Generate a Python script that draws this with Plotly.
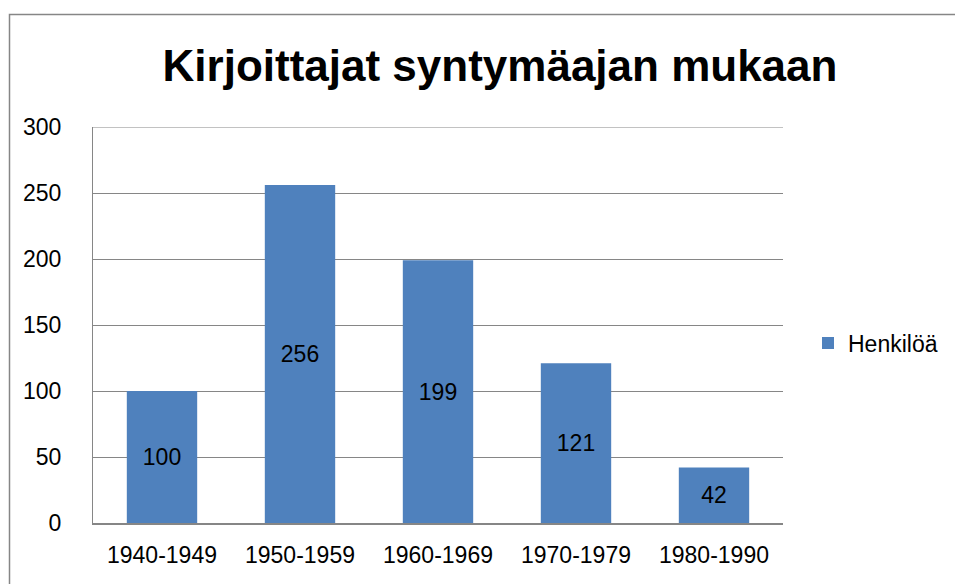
import plotly.graph_objects as go

categories = ["1940-1949", "1950-1959", "1960-1969", "1970-1979", "1980-1990"]
values = [100, 256, 199, 121, 42]
series_name = "Henkilöä"
title_text = "Kirjoittajat syntymäajan mukaan"
y_max = 300

W, H = 955, 584
L, R, T, B = 93, 172, 127, 61
pw, ph = W - L - R, H - T - B
FONT = "Liberation Sans, Arial"

def px_x(p):
    return (p - L) / pw

def px_y(p):
    return (H - B - p) / ph

fig = go.Figure()
fig.add_trace(go.Bar(
    x=categories, y=values, name=series_name,
    marker=dict(color="#4F81BD", line=dict(width=0)),
    width=0.51,
    text=[str(v) for v in values],
    textposition="inside", insidetextanchor="middle",
    textfont=dict(family=FONT, size=23, color="black"),
    showlegend=True,
))

fig.update_layout(
    width=W, height=H,
    margin=dict(l=L, r=R, t=T, b=B, autoexpand=False),
    paper_bgcolor="white", plot_bgcolor="white",
    title=dict(text="<b>" + title_text + "</b>", x=px_x(500), xref="paper", xanchor="center",
               y=1 - 66 / H, yanchor="middle", yref="container",
               font=dict(family=FONT, size=44, color="black")),
    font=dict(family=FONT, size=23, color="black"),
    xaxis=dict(showgrid=False, showline=True, linecolor="#868686", linewidth=2,
               ticks="", tickfont=dict(size=23), ticklabelstandoff=10, mirror=False),
    yaxis=dict(range=[0, y_max], dtick=50, showgrid=True, gridcolor="#868686", gridwidth=1,
               showline=True, linecolor="#868686", linewidth=1, ticks="",
               tickfont=dict(size=23), ticklabelstandoff=26, zeroline=False),
    legend=dict(x=px_x(808), y=px_y(343), xanchor="left", yanchor="middle",
                font=dict(size=23), bgcolor="rgba(0,0,0,0)", itemwidth=30),
    bargap=0.49,
    shapes=[
        dict(type="rect", xref="paper", yref="paper",
             x0=px_x(9.5), y0=-0.5, x1=1.5, y1=px_y(14.5),
             line=dict(color="#868686", width=1.5), fillcolor="rgba(0,0,0,0)", layer="below"),
        dict(type="line", xref="paper", yref="y", x0=0, x1=1, y0=y_max, y1=y_max,
             line=dict(color="#868686", width=1), layer="below"),
    ],
)

fig.write_html("out.html", config={"displayModeBar": False},
               post_script="document.body.style.margin='0';")
